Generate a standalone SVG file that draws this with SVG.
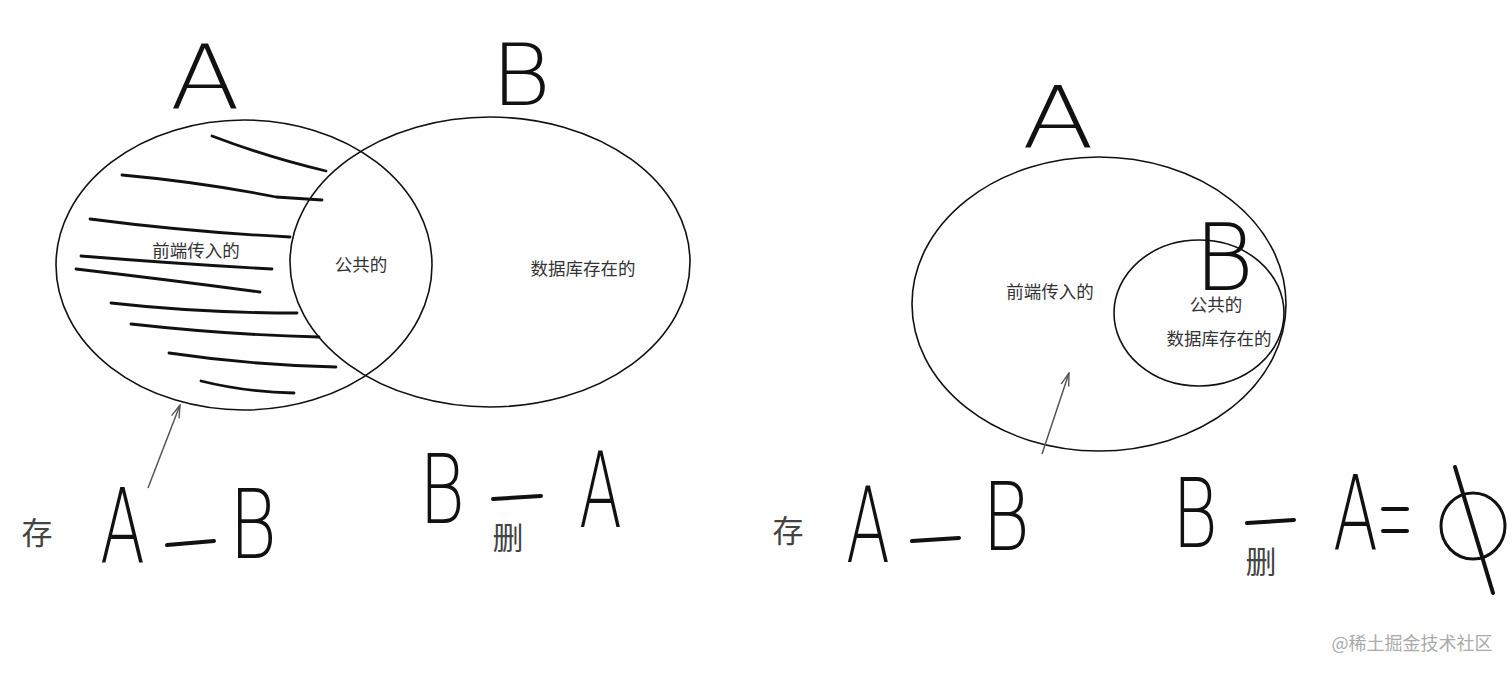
<svg xmlns="http://www.w3.org/2000/svg" width="1512" height="674" viewBox="0 0 1512 674">
<style>
.circ{fill:none;stroke:#111;stroke-width:1.6}
.hatch{fill:none;stroke:#111;stroke-width:2.8;stroke-linecap:round}
.cn{font-family:"Noto Sans CJK SC","Noto Sans",sans-serif;fill:#333;font-size:17.5px;text-anchor:middle}
.big{font-family:"Noto Sans CJK SC",sans-serif;fill:#444;font-size:31px;text-anchor:middle}
.hand{font-family:"DejaVu Sans",sans-serif;font-weight:200;fill:#111}
.dash{fill:none;stroke:#111;stroke-width:4;stroke-linecap:round}
.arrow{fill:none;stroke:#555;stroke-width:1.5}
</style>
<defs>
<marker id="ah" viewBox="0 0 14 10" refX="13" refY="5" markerWidth="14" markerHeight="10" markerUnits="userSpaceOnUse" orient="auto">
<path d="M0,1 L13,5 L0,9" fill="none" stroke="#555" stroke-width="1.4"/>
</marker>
</defs>
<rect width="1512" height="674" fill="#fff"/>

<g id="left-A">
<ellipse class="circ" cx="244" cy="265" rx="188" ry="145"/>
<g class="hatch">
<path d="M212,136 Q270,158 326,171"/>
<path d="M122,175 Q200,182 276,197 L322,200"/>
<path d="M90,219 Q190,232 290,237"/>
<path d="M81,256 Q180,264 272,269"/>
<path d="M76,269 Q170,280 260,292"/>
<path d="M111,303 Q200,313 297,313"/>
<path d="M131,324 Q230,335 319,337"/>
<path d="M169,353 Q250,365 336,367"/>
<path d="M201,381 Q245,392 294,393"/>
</g>
<text class="hand" x="170" y="108" font-size="89" textLength="70" lengthAdjust="spacingAndGlyphs">A</text>
<text class="cn" x="196" y="257">前端传入的</text>
</g>
<g id="left-B">
<ellipse class="circ" cx="490" cy="262" rx="200" ry="145"/>
<text class="hand" x="491" y="105" font-size="86" textLength="60" lengthAdjust="spacingAndGlyphs">B</text>
<text class="cn" x="361" y="271">公共的</text>
<text class="cn" x="583" y="275">数据库存在的</text>
</g>
<g id="left-formulas">
<text class="big" x="37" y="544">存</text>
<text class="hand" x="100" y="563" font-size="104" textLength="45" lengthAdjust="spacingAndGlyphs">A</text>
<path class="dash" d="M167,545 L214,541"/>
<text class="hand" x="229" y="558" font-size="97" textLength="48" lengthAdjust="spacingAndGlyphs">B</text>
<text class="hand" x="419" y="523" font-size="97" textLength="46" lengthAdjust="spacingAndGlyphs">B</text>
<path class="dash" d="M493,499 L541,496"/>
<text class="hand" x="579" y="527" font-size="105" textLength="43" lengthAdjust="spacingAndGlyphs">A</text>
<text class="big" x="508" y="549">删</text>
</g>

<g id="right-A">
<ellipse class="circ" cx="1099" cy="304" rx="187" ry="147"/>
<text class="hand" x="1022" y="148" font-size="86" textLength="72" lengthAdjust="spacingAndGlyphs">A</text>
<text class="cn" x="1050" y="298">前端传入的</text>
</g>
<g id="right-B">
<ellipse class="circ" cx="1199" cy="313" rx="85" ry="73"/>
<text class="hand" x="1194" y="290" font-size="92" textLength="60" lengthAdjust="spacingAndGlyphs">B</text>
<text class="cn" x="1216" y="311">公共的</text>
<text class="cn" x="1219" y="345">数据库存在的</text>
</g>
<g id="right-formulas">
<text class="big" x="788" y="542">存</text>
<text class="hand" x="846" y="562" font-size="105" textLength="44" lengthAdjust="spacingAndGlyphs">A</text>
<path class="dash" d="M912,541 L959,538"/>
<text class="hand" x="982" y="550" font-size="95" textLength="48" lengthAdjust="spacingAndGlyphs">B</text>
<text class="hand" x="1172" y="547" font-size="96" textLength="46" lengthAdjust="spacingAndGlyphs">B</text>
<path class="dash" d="M1247,523 L1294,520"/>
<text class="big" x="1261" y="573">删</text>
<text class="hand" x="1333" y="550" font-size="104" textLength="45" lengthAdjust="spacingAndGlyphs">A</text>
<path class="dash" d="M1383,509 L1407,509 M1383,531 L1407,531" stroke-width="5"/>
<ellipse cx="1473" cy="526" rx="32" ry="33" fill="none" stroke="#111" stroke-width="3"/>
<path class="dash" d="M1455,467 L1493,593" stroke-width="3"/>
</g>

<g id="connectors">
<path class="arrow" d="M148,488 L180,405" marker-end="url(#ah)"/>
<path class="arrow" d="M1042,454 L1069,373" marker-end="url(#ah)"/>
</g>

<text x="1412" y="650" font-family="Noto Sans CJK SC,sans-serif" font-size="18" fill="#aaa" text-anchor="middle">@稀土掘金技术社区</text>
</svg>
